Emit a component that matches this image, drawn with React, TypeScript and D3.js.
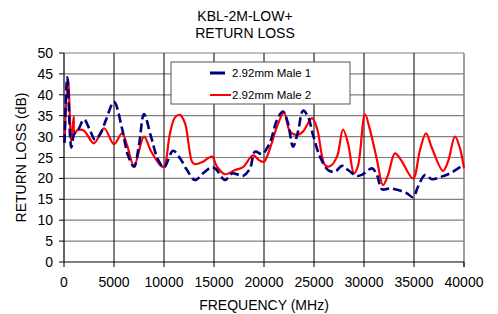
import React from 'react';
import * as d3 from 'd3';

const titleLines = ['KBL-2M-LOW+', 'RETURN LOSS'];
const xTicks = [0, 5000, 10000, 15000, 20000, 25000, 30000, 35000, 40000];
const yTicks = [0, 5, 10, 15, 20, 25, 30, 35, 40, 45, 50];
const seriesNames = ['2.92mm Male 1', '2.92mm Male 2'];

const male1Freq = [50, 330, 730, 1000, 1400, 2000, 2600, 3100, 3600, 4200, 5000, 5800, 6400, 7000, 7500, 8000, 8700, 9400, 10000, 10900, 11600, 12300, 13100, 13900, 14800, 15200, 16100, 16800, 17400, 17900, 18600, 19100, 19800, 20300, 20700, 21300, 21900, 22400, 22900, 23400, 23900, 24400, 24900, 25600, 26400, 27100, 27800, 28400, 29300, 29900, 30800, 31300, 31800, 32600, 33400, 34300, 34900, 35400, 36100, 36800, 37600, 38600, 39600, 40000];
const male1Loss = [28.5, 44.2, 27.4, 30.5, 31.5, 34.1, 31.5, 29.3, 30.5, 34, 38.3, 32, 25.5, 22.8, 28, 35.4, 30, 24.5, 22.6, 26.6, 24.8, 22, 19.6, 21.2, 22.7, 22.2, 19.6, 21.2, 20.9, 20.6, 22.4, 26.4, 25.8, 27.2, 29.2, 34, 36, 33.2, 27.6, 31.2, 36.2, 34.8, 30.4, 25.2, 22, 21.6, 23, 22, 20.6, 21, 22.4, 20.8, 17.4, 17.6, 17.2, 16.4, 15.5, 18, 20.8, 19.8, 20.3, 21.2, 22.7, 23.3];

const male2Freq = [50, 400, 730, 970, 1070, 1400, 2000, 3000, 4000, 5000, 5800, 6300, 7000, 8000, 8700, 9700, 10000, 10600, 11100, 11600, 12100, 12800, 13100, 13900, 14800, 15300, 16100, 17100, 17900, 18900, 19600, 20000, 20600, 21300, 22000, 22600, 23300, 23900, 24800, 25300, 26100, 26600, 27300, 27900, 28400, 29000, 29400, 30100, 30600, 31300, 31900, 32400, 33100, 33700, 34900, 35600, 36200, 36800, 37900, 38400, 39100, 39600, 40000];
const male2Loss = [28.5, 43.9, 28.8, 34.8, 31, 31.6, 31.4, 28.4, 32, 28.2, 30.8, 28, 23, 30, 26.5, 23, 22.7, 30.8, 34.6, 35.2, 33.2, 24, 23.4, 24, 25.2, 22.8, 21, 22, 22.7, 25.5, 24.2, 24, 27.2, 32.4, 35.7, 31.2, 30.4, 31.2, 34.4, 32, 23.2, 22.9, 25.2, 31.7, 28.4, 21.2, 23, 35.3, 31.6, 24.4, 18.4, 20.8, 26, 24.4, 20, 26.8, 30.8, 27.2, 21.8, 24, 30, 27.2, 22.4];

const font = '"Liberation Sans", Arial, sans-serif';

export default function App() {
  const width = 498, height = 314;
  const left = 64, right = 464, top = 53, bottom = 262;

  const x = d3.scaleLinear().domain([0, 40000]).range([left, right]);
  const y = d3.scaleLinear().domain([0, 50]).range([bottom, top]);

  const line = d3.line<[number, number]>()
    .x(d => x(d[0]))
    .y(d => y(d[1]))
    .curve(d3.curveCatmullRom.alpha(0.5));

  const male1 = line(male1Freq.map((f, i) => [f, male1Loss[i]] as [number, number])) || '';
  const male2 = line(male2Freq.map((f, i) => [f, male2Loss[i]] as [number, number])) || '';

  return (
    <svg width={width} height={height} style={{ position: 'absolute', left: 0, top: 0, background: '#fff' }} fontFamily={font}>
      <rect width={width} height={height} fill="#fff" />
      {titleLines.map((t, i) => (
        <text key={t} x={245} y={21 + i * 16.5} textAnchor="middle" fontSize={14} fill="#000">{t}</text>
      ))}

      {/* grid */}
      {yTicks.filter(v => v > 0).map(v => (
        <line key={'h' + v} x1={left} x2={right} y1={y(v)} y2={y(v)} stroke="#808080" strokeWidth={1.2} />
      ))}
      {xTicks.filter(v => v > 0 && v < 40000).map(v => (
        <line key={'v' + v} x1={x(v)} x2={x(v)} y1={top} y2={bottom} stroke="#000" strokeWidth={1} />
      ))}
      <line x1={right} x2={right} y1={top} y2={bottom + 5} stroke="#808080" strokeWidth={1.5} />

      {/* axes */}
      <line x1={left} x2={left} y1={top} y2={bottom} stroke="#000" strokeWidth={1.2} />
      <line x1={left} x2={right} y1={bottom} y2={bottom} stroke="#000" strokeWidth={1.2} />
      {yTicks.map(v => (
        <g key={'yt' + v}>
          <line x1={left - 5} x2={left} y1={y(v)} y2={y(v)} stroke="#000" />
          <text x={53} y={y(v)} dy="0.36em" textAnchor="end" fontSize={14} fill="#000">{v}</text>
        </g>
      ))}
      {xTicks.map(v => (
        <g key={'xt' + v}>
          <line x1={x(v)} x2={x(v)} y1={bottom} y2={bottom + 5} stroke="#000" />
          <text x={x(v)} y={287} textAnchor="middle" fontSize={14} fill="#000">{v}</text>
        </g>
      ))}
      <text x={264} y={310} textAnchor="middle" fontSize={14} fill="#000">FREQUENCY (MHz)</text>
      <text transform={`translate(26,${(top + bottom) / 2}) rotate(-90)`} textAnchor="middle" fontSize={14} fill="#000">RETURN LOSS (dB)</text>

      {/* series */}
      <path d={male2} fill="none" stroke="#ff0000" strokeWidth={2.2} />
      <path d={male1} fill="none" stroke="#000080" strokeWidth={2.6} strokeDasharray="9,4" />

      {/* legend */}
      <rect x={171} y={62} width={179} height={42} fill="#fff" stroke="#555" strokeWidth={1} />
      <line x1={210} x2={225} y1={73} y2={73} stroke="#000080" strokeWidth={3} />
      <text x={232} y={73} dy="0.36em" fontSize={11.5} fill="#000">{seriesNames[0]}</text>
      <line x1={210} x2={231} y1={95} y2={95} stroke="#ff0000" strokeWidth={2} />
      <text x={232} y={95} dy="0.36em" fontSize={11.5} fill="#000">{seriesNames[1]}</text>
    </svg>
  );
}
